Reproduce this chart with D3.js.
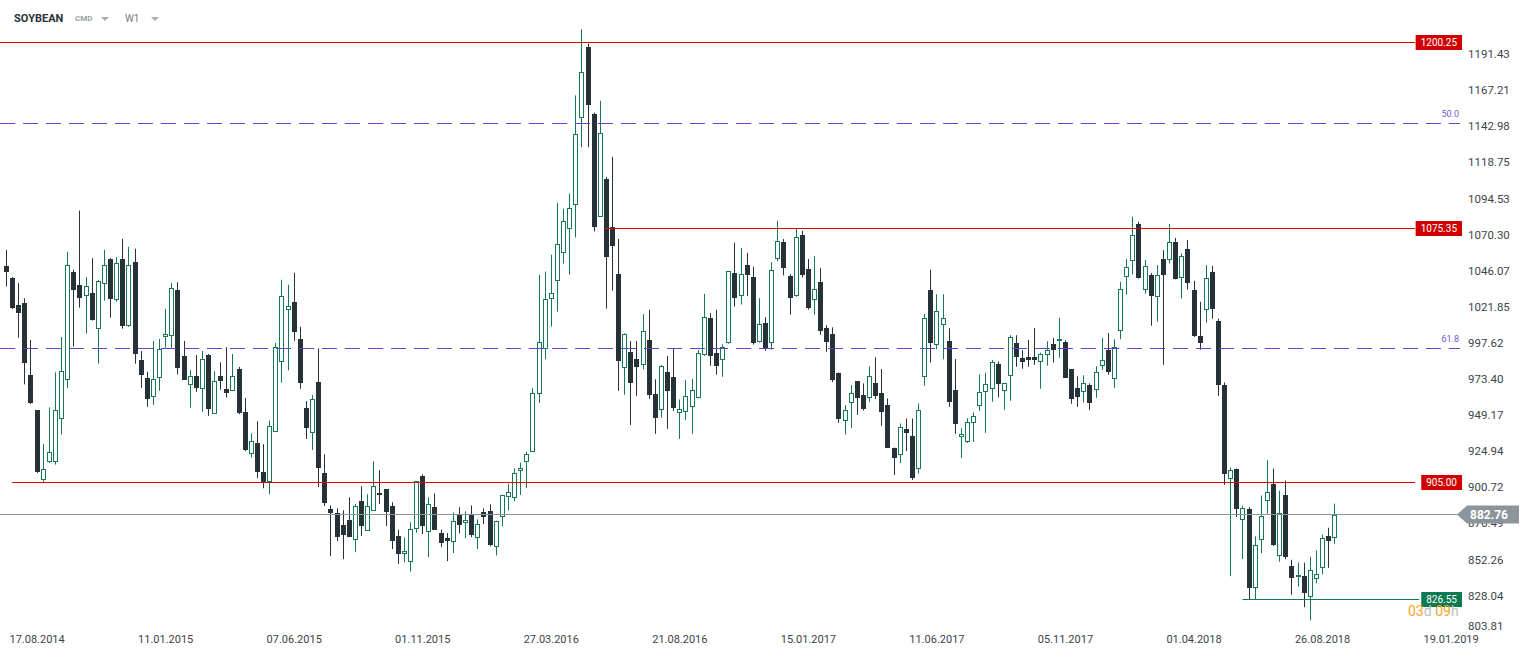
<!DOCTYPE html>
<html>
<head>
<meta charset="utf-8">
<script src="https://cdn.jsdelivr.net/npm/d3@7"></script>
<style>
  body { margin: 0; background: #fff; }
  svg { display: block; font-family: Roboto, 'Noto Sans', sans-serif; }
</style>
</head>
<body>
<div id="chart"></div>
<script>
// Weekly SOYBEAN candles, one per week (index 0 = first week on the chart)

var open = [1050.3, 1042.2, 1023.8, 1025.2, 976.8, 953.2, 906.8, 918.7, 918.9, 947.8,
  973.4, 1046.2, 1037.3, 1029.9, 1031.9, 1007.7, 1038.0, 1054.8, 1027.2, 1054.8,
  1009.7, 1052.8, 987.1, 975.0, 962.4, 974.8, 1002.3, 1003.0, 1033.9, 989.8,
  970.0, 976.1, 967.3, 990.4, 950.9, 976.1, 967.5, 966.4, 981.0, 952.5,
  924.3, 931.2, 911.7, 905.2, 938.8, 985.5, 1020.5, 1026.1, 1001.2, 954.8,
  937.8, 972.3, 911.1, 887.1, 884.6, 876.1, 879.5, 866.5, 892.2, 872.5,
  886.0, 898.1, 900.3, 889.3, 869.2, 857.1, 851.7, 873.9, 909.0, 871.8,
  888.2, 871.2, 867.3, 865.1, 883.9, 877.9, 883.0, 867.5, 884.8, 885.5,
  861.5, 881.7, 895.4, 894.7, 912.9, 918.9, 925.6, 964.0, 994.5, 1027.9,
  1040.4, 1059.2, 1075.0, 1091.1, 1149.6, 1197.4, 1152.3, 1083.0, 1108.6, 1076.3,
  1044.9, 981.5, 992.2, 987.5, 983.5, 1000.3, 964.2, 953.6, 978.8, 975.4,
  951.2, 951.9, 955.3, 961.3, 990.6, 1015.1, 991.6, 986.9, 998.7, 1045.4,
  1030.1, 1050.7, 1042.7, 999.4, 1011.7, 998.3, 1054.8, 1066.2, 1043.3, 1030.3,
  1070.9, 1048.1, 1027.2, 1039.3, 1008.4, 1004.3, 978.1, 946.2, 957.9, 972.7,
  963.3, 961.3, 971.4, 964.7, 956.6, 928.3, 923.6, 941.1, 936.4, 914.2,
  975.4, 1033.9, 996.9, 1010.4, 999.6, 966.7, 935.7, 932.1, 944.5, 955.9,
  965.3, 967.3, 984.2, 966.4, 976.1, 998.3, 988.2, 988.9, 988.9, 985.5,
  990.2, 997.6, 999.6, 999.2, 980.8, 968.0, 965.3, 970.0, 966.7, 982.8,
  993.8, 974.1, 1006.4, 1042.7, 1053.4, 1078.3, 1033.9, 1044.0, 1029.2, 1054.8,
  1054.1, 1066.2, 1042.0, 1061.5, 1034.1, 1003.0, 1020.5, 1046.0, 1013.1, 970.0,
  907.5, 914.2, 879.8, 887.3, 834.2, 866.5, 892.7, 903.7, 855.7, 896.7,
  849.0, 841.6, 841.8, 828.1, 840.2, 847.6, 869.2, 867.8]

var high = [1061.0, 1042.7, 1038.6, 1028.5, 1000.5, 953.2, 930.6, 955.3, 978.8, 1002.5,
  1059.7, 1047.6, 1087.3, 1042.7, 1055.4, 1040.9, 1061.0, 1055.4, 1056.1, 1068.4,
  1063.0, 1061.7, 993.1, 979.2, 999.8, 1001.2, 1021.4, 1038.6, 1039.3, 999.8,
  980.3, 990.4, 993.1, 991.1, 979.6, 985.5, 995.6, 991.1, 982.4, 961.5,
  937.8, 946.0, 930.6, 946.5, 998.5, 1040.9, 1037.5, 1045.6, 1009.3, 959.5,
  963.5, 994.9, 923.8, 889.5, 887.5, 886.2, 894.9, 890.4, 902.3, 897.0,
  919.1, 913.1, 900.3, 891.6, 873.2, 868.0, 878.1, 905.9, 910.4, 894.9,
  897.6, 873.2, 870.9, 884.8, 888.2, 885.5, 889.5, 880.1, 887.5, 890.2,
  879.3, 896.7, 904.1, 914.4, 918.2, 925.4, 968.1, 1044.2, 1046.4, 1057.7,
  1092.6, 1088.6, 1098.7, 1164.6, 1209.0, 1199.4, 1153.0, 1161.0, 1109.9, 1123.4,
  1068.2, 1005.0, 999.8, 999.8, 1017.8, 1020.7, 974.1, 983.7, 989.8, 995.1,
  960.6, 973.6, 974.3, 993.8, 1031.4, 1018.5, 1020.7, 997.6, 1046.7, 1065.7,
  1062.2, 1059.0, 1049.6, 1028.5, 1015.8, 1052.8, 1080.5, 1068.2, 1044.7, 1075.4,
  1073.6, 1054.8, 1056.8, 1048.7, 1010.4, 1009.0, 978.8, 956.8, 970.2, 972.7,
  971.4, 982.8, 988.9, 981.0, 961.3, 928.3, 944.5, 947.8, 947.8, 957.9,
  1018.0, 1047.6, 1031.2, 1031.2, 1008.4, 987.7, 941.3, 948.0, 951.9, 977.4,
  978.5, 987.1, 986.2, 971.4, 1003.7, 1003.7, 993.6, 1000.5, 1008.6, 992.0,
  999.6, 1001.9, 1015.3, 1000.3, 980.8, 976.1, 976.8, 971.4, 982.8, 1001.9,
  1005.2, 1001.0, 1039.5, 1054.8, 1083.2, 1079.7, 1054.1, 1045.4, 1050.7, 1060.8,
  1078.3, 1068.9, 1058.6, 1067.6, 1040.2, 1026.1, 1050.7, 1050.3, 1014.8, 972.0,
  914.9, 914.2, 889.3, 888.4, 868.7, 896.1, 919.8, 914.2, 899.4, 906.2,
  853.0, 851.2, 851.0, 855.0, 859.3, 869.8, 874.5, 890.7]

var low = [1036.4, 1021.2, 1002.0, 970.7, 957.5, 911.3, 905.2, 918.0, 916.9, 937.1,
  968.4, 996.0, 1022.2, 1004.8, 1013.5, 984.6, 1026.9, 1015.5, 1026.1, 1008.1,
  1009.3, 984.6, 968.4, 955.6, 957.0, 966.4, 995.3, 995.3, 977.4, 973.8,
  955.0, 965.7, 952.3, 949.6, 950.9, 967.1, 962.0, 966.4, 950.7, 925.9,
  921.6, 907.7, 901.0, 897.1, 938.8, 971.8, 980.1, 1000.0, 967.8, 934.1,
  926.7, 901.8, 889.1, 855.4, 865.5, 853.4, 868.2, 858.1, 868.9, 872.5,
  886.0, 890.4, 875.6, 860.2, 850.3, 851.4, 845.0, 871.2, 870.3, 854.8,
  873.2, 861.5, 852.1, 857.5, 870.7, 867.5, 868.2, 860.2, 877.0, 862.0,
  855.9, 875.6, 886.2, 892.4, 896.5, 901.2, 925.6, 958.3, 987.5, 1009.5,
  1019.5, 1051.8, 1044.4, 1069.3, 1129.8, 1129.8, 1073.3, 1083.0, 1021.6, 1033.7,
  966.4, 963.7, 943.5, 963.0, 980.8, 961.0, 937.5, 948.3, 940.9, 953.0,
  934.1, 946.9, 937.5, 961.3, 989.9, 983.2, 977.2, 975.8, 998.0, 1022.9,
  1024.3, 1029.9, 997.4, 998.7, 993.3, 994.0, 1053.2, 1043.8, 1017.5, 1029.6,
  1042.4, 1020.9, 1017.5, 1003.9, 992.6, 972.3, 944.9, 937.1, 941.5, 950.3,
  953.2, 959.0, 960.8, 942.9, 928.1, 909.9, 918.0, 926.0, 906.6, 910.9,
  969.8, 985.3, 994.3, 987.5, 955.6, 937.5, 921.4, 931.4, 932.1, 953.0,
  938.2, 959.0, 962.0, 953.6, 959.7, 982.5, 981.2, 982.5, 983.9, 967.8,
  983.2, 985.3, 988.6, 975.2, 957.7, 955.6, 958.6, 953.6, 961.7, 980.5,
  977.2, 968.4, 1001.0, 1031.0, 1044.4, 1041.7, 1031.6, 1010.1, 1012.8, 983.9,
  1051.8, 1041.1, 1028.3, 1034.3, 1002.5, 994.0, 1012.1, 1014.8, 963.0, 903.2,
  842.0, 881.7, 853.5, 826.55, 826.6, 857.5, 884.0, 862.2, 851.7, 853.4,
  829.5, 834.9, 821.2, 812.4, 837.3, 843.3, 847.6, 863.5]

var close = [1045.8, 1022.2, 1018.9, 985.3, 958.3, 911.9, 914.2, 925.4, 953.2, 979.5,
  1050.7, 1034.3, 1029.0, 1036.6, 1014.0, 1040.0, 1050.7, 1028.3, 1052.1, 1010.1,
  1050.7, 990.9, 977.2, 961.0, 974.3, 994.2, 1004.3, 1035.3, 981.9, 973.8,
  976.1, 968.4, 987.5, 954.3, 972.7, 973.1, 965.1, 976.1, 951.4, 926.5,
  932.4, 911.7, 905.0, 943.1, 995.6, 1030.1, 1023.4, 1006.1, 971.8, 941.5,
  960.6, 914.6, 891.1, 884.4, 868.2, 869.4, 868.2, 889.3, 875.6, 889.3,
  902.8, 896.4, 885.0, 865.5, 857.1, 859.1, 873.9, 905.9, 875.6, 890.7,
  873.2, 864.2, 865.5, 879.3, 876.3, 879.9, 869.4, 877.2, 881.7, 862.6,
  879.3, 896.7, 898.8, 911.5, 914.9, 924.0, 964.7, 999.0, 1027.9, 1031.9,
  1064.9, 1080.3, 1089.1, 1138.8, 1180.5, 1158.4, 1076.3, 1139.5, 1056.5, 1063.3,
  986.6, 1004.3, 971.8, 982.5, 1006.4, 963.7, 948.3, 983.0, 966.4, 955.0,
  953.9, 962.6, 966.7, 991.6, 1015.8, 989.9, 983.2, 995.6, 1046.7, 1029.0,
  1044.7, 1043.8, 998.7, 1011.1, 995.3, 1047.4, 1066.9, 1048.5, 1029.0, 1069.6,
  1043.8, 1022.2, 1034.6, 1006.8, 999.0, 973.8, 947.2, 953.2, 964.7, 961.3,
  954.4, 976.5, 963.0, 952.3, 928.1, 921.4, 941.8, 938.2, 907.9, 953.2,
  1015.1, 998.3, 1019.8, 1015.1, 959.0, 944.2, 937.1, 945.2, 949.2, 965.3,
  970.7, 985.5, 971.1, 971.4, 1002.3, 989.3, 985.9, 987.3, 987.3, 990.9,
  993.6, 993.6, 1001.0, 975.2, 960.6, 962.0, 971.4, 958.3, 978.8, 986.9,
  979.2, 995.6, 1034.6, 1049.4, 1070.9, 1042.4, 1050.1, 1030.3, 1044.0, 1043.8,
  1066.2, 1041.7, 1056.8, 1038.4, 1003.2, 998.3, 1042.0, 1021.6, 970.4, 910.6,
  913.3, 887.1, 887.7, 833.9, 863.1, 882.6, 898.8, 862.8, 884.6, 854.8,
  840.9, 842.7, 830.6, 846.3, 843.6, 867.5, 865.5, 882.76]

// axis labels
var dateLabels = ['17.08.2014', '11.01.2015', '07.06.2015', '01.11.2015', '27.03.2016', '21.08.2016',
  '15.01.2017', '11.06.2017', '05.11.2017', '01.04.2018', '26.08.2018', '19.01.2019']
var dateWeeks = [5, 26, 47, 68, 89, 110, 131, 152, 173, 194, 215, 236]

var priceTicks = [1191.43, 1167.21, 1142.98, 1118.75, 1094.53, 1070.30, 1046.07, 1021.85,
  997.62, 973.40, 949.17, 924.94, 900.72, 876.49, 852.26, 828.04, 803.81]

// horizontal levels drawn on the chart
var redLevels = [1200.25, 1075.35, 905.00]
var redLevelFrom = [-1, 97.7, 1]
var supportLevel = 826.55
var supportFrom = 202
var fibLevels = [1146.0, 995.0]
var fibNames = ['50.0', '61.8']
var lastPrice = 882.76

var width = 1529
var height = 657

var green = '#137a55'
var dark = '#263238'
var red = '#e00000'
var purple = '#6840cc'
var grey = '#8a969b'

var svg = d3
  .select('#chart')
  .append('svg')
  .attr('width', width)
  .attr('height', height)

// scales

var xScale = d3.scaleLinear().domain([0, 217]).range([6, 1334.3])
var yScale = d3.scaleLinear().domain([905, 1200.25]).range([482.3, 42.3])

function rowY(p) {
  return Math.round(yScale(p)) + 0.5
}

// header

var header = svg.append('g')
header.append('text')
  .text('SOYBEAN')
  .attr('x', 14)
  .attr('y', 22)
  .attr('font-size', 11)
  .attr('font-weight', 'bold')
  .attr('fill', '#2b3238')
header.append('text')
  .text('CMD')
  .attr('x', 75)
  .attr('y', 21)
  .attr('font-size', 8)
  .attr('font-weight', 'bold')
  .attr('fill', '#98a2a7')
header.append('text')
  .text('W1')
  .attr('x', 125)
  .attr('y', 22)
  .attr('font-size', 10)
  .attr('fill', '#6f7a80')
header.selectAll('.caret')
  .data([101, 151])
  .enter()
  .append('path')
  .attr('d', d => 'M' + d + ',17 l8,0 l-4,4 z')
  .attr('fill', '#a5aeb3')

// candles

var candles = open.map((o, i) => ({ i: i, o: o, h: high[i], l: low[i], c: close[i] }))

var candleG = svg
  .selectAll('.candle')
  .data(candles)
  .enter()
  .append('g')
  .attr('class', 'candle')

candleG
  .append('line')
  .attr('x1', d => Math.round(xScale(d.i)) + 0.5)
  .attr('x2', d => Math.round(xScale(d.i)) + 0.5)
  .attr('y1', d => yScale(d.h))
  .attr('y2', d => yScale(d.l))
  .attr('stroke', d => (d.c >= d.o ? green : dark))
  .attr('stroke-width', 1)

candleG
  .append('rect')
  .attr('x', d => (d.c >= d.o ? Math.round(xScale(d.i)) - 1.5 : Math.round(xScale(d.i)) - 2))
  .attr('width', d => (d.c >= d.o ? 4 : 5))
  .attr('y', d => {
    var top = Math.round(yScale(Math.max(d.o, d.c)))
    return d.c >= d.o ? top + 0.5 : top
  })
  .attr('height', d => {
    var top = Math.round(yScale(Math.max(d.o, d.c)))
    var bot = Math.round(yScale(Math.min(d.o, d.c)))
    return d.c >= d.o ? Math.max(bot - top - 1, 1) : Math.max(bot - top, 1)
  })
  .attr('fill', d => (d.c >= d.o ? '#fff' : dark))
  .attr('stroke', d => (d.c >= d.o ? green : 'none'))
  .attr('stroke-width', 1)

// fibonacci lines

svg
  .selectAll('.fib-line')
  .data(fibLevels)
  .enter()
  .append('line')
  .attr('class', 'fib-line')
  .attr('x1', 0)
  .attr('x2', 1460)
  .attr('y1', d => rowY(d))
  .attr('y2', d => rowY(d))
  .attr('stroke', purple)
  .attr('stroke-dasharray', '15,8')

svg
  .selectAll('.fib-label')
  .data(fibLevels)
  .enter()
  .append('text')
  .attr('class', 'fib-label')
  .text((d, i) => fibNames[i])
  .attr('x', 1459)
  .attr('y', d => yScale(d) - 6)
  .attr('text-anchor', 'end')
  .attr('font-size', 9)
  .attr('fill', '#7b52d6')

// current price line

svg
  .append('line')
  .attr('x1', 0)
  .attr('x2', 1458)
  .attr('y1', rowY(lastPrice) - 1)
  .attr('y2', rowY(lastPrice) - 1)
  .attr('stroke', grey)

// red levels

svg
  .selectAll('.red-line')
  .data(redLevels)
  .enter()
  .append('line')
  .attr('class', 'red-line')
  .attr('x1', (d, i) => Math.max(0, xScale(redLevelFrom[i])))
  .attr('x2', 1415)
  .attr('y1', d => rowY(d))
  .attr('y2', d => rowY(d))
  .style('stroke', red)
  .style('stroke-width', 1)

// support level

svg
  .append('line')
  .attr('x1', xScale(supportFrom))
  .attr('x2', 1419)
  .attr('y1', rowY(supportLevel))
  .attr('y2', rowY(supportLevel))
  .attr('stroke', green)

// level labels, right aligned at the plot edge

function levelTag(price, fill) {
  var tag = svg.append('g')
  var label = tag
    .append('text')
    .text(price.toFixed(2))
    .attr('x', 1457)
    .attr('y', Math.round(yScale(price)) + 4)
    .attr('text-anchor', 'end')
    .attr('font-size', 10)
    .attr('fill', '#fff')
  var w = label.node().getComputedTextLength()
  tag
    .insert('rect', 'text')
    .attr('x', 1462 - w - 10)
    .attr('y', Math.round(yScale(price)) - 7)
    .attr('width', w + 10)
    .attr('height', 15)
    .attr('fill', fill)
}

redLevels.forEach(d => levelTag(d, '#d00000'))
levelTag(supportLevel, '#0b7a52')

// y axis

var yAxis = d3
  .axisRight(yScale)
  .tickValues(priceTicks)
  .tickSize(0)
  .tickPadding(3)
  .tickFormat(d => d.toFixed(2))

svg
  .append('g')
  .attr('class', 'axis y-axis')
  .attr('transform', 'translate(1465,-1.5)')
  .call(yAxis)
  .call(g => g.select('.domain').remove())
  .call(g => g.selectAll('text')
    .attr('font-size', 11.5)
    .attr('font-family', 'Roboto, sans-serif')
    .attr('fill', '#3c4449'))
  // lowest label is kept clear of the date row
  .call(g => g.selectAll('.tick')
    .filter(d => d === priceTicks[priceTicks.length - 1])
    .select('text')
    .attr('y', -6))

// last price tag sits over the axis labels

var ly = rowY(lastPrice) - 1
svg
  .append('path')
  .attr('d', 'M1457,' + ly + ' L1467,' + (ly - 9) + ' L1519,' + (ly - 9) + ' L1519,' + (ly + 9) + ' L1467,' + (ly + 9) + ' Z')
  .attr('fill', grey)

svg
  .append('text')
  .text(lastPrice.toFixed(2))
  .attr('x', 1470)
  .attr('y', ly + 4.5)
  .attr('font-size', 12)
  .attr('font-weight', 'bold')
  .attr('fill', '#fff')

// x axis

var xAxis = d3
  .axisBottom(xScale)
  .tickValues(dateWeeks)
  .tickSize(0)
  .tickPadding(10)
  .tickFormat((d, i) => dateLabels[i])

svg
  .append('g')
  .attr('class', 'axis x-axis')
  .attr('transform', 'translate(0,625)')
  .call(xAxis)
  .call(g => g.select('.domain').remove())
  .call(g => g.selectAll('text')
    .attr('font-size', 11)
    .attr('font-family', 'Roboto, sans-serif')
    .attr('fill', '#3c4449'))

// candle countdown

var countdown = svg
  .append('text')
  .attr('x', 1408)
  .attr('y', 616)
  .attr('font-size', 14)
countdown.append('tspan').text('03').attr('fill', '#f5a623')
countdown.append('tspan').text('d ').attr('fill', '#b9c0c4')
countdown.append('tspan').text('09').attr('fill', '#f5a623')
countdown.append('tspan').text('h').attr('fill', '#b9c0c4')
</script>
</body>
</html>
